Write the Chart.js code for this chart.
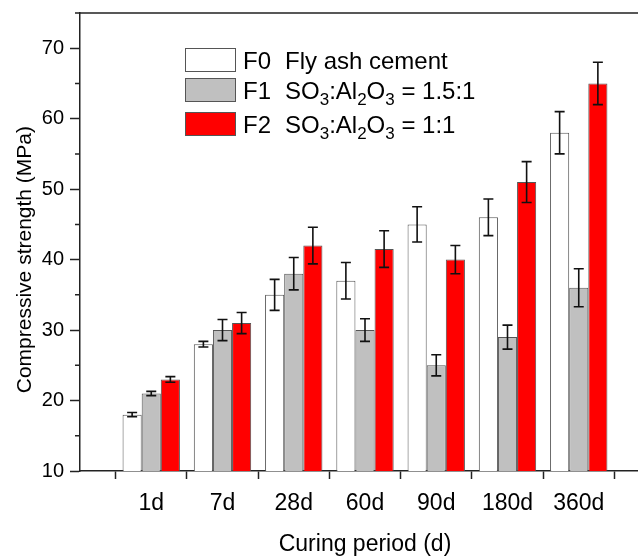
<!DOCTYPE html>
<html><head><meta charset="utf-8">
<script src="https://cdn.jsdelivr.net/npm/chart.js@4.4.1/dist/chart.umd.min.js"></script>
<style>html,body{margin:0;padding:0;overflow:hidden;background:#fff;width:638px;height:558px}canvas{display:block}</style>
</head><body>
<canvas id="c" width="650" height="558"></canvas>
<script>
// ---- data ----
const categories = ['1d', '7d', '28d', '60d', '90d', '180d', '360d'];
const seriesCodes = ['F0', 'F1', 'F2'];
const seriesDescriptions = ['Fly ash cement', 'SO_3:Al_2O_3 = 1.5:1', 'SO_3:Al_2O_3 = 1:1'];
const f0Values = [18, 28, 35, 37, 45, 46, 58];
const f0Errors = [0.3, 0.4, 2.2, 2.6, 2.5, 2.6, 3.0];
const f1Values = [21, 30, 38, 30, 25, 29, 36];
const f1Errors = [0.3, 1.5, 2.3, 1.6, 1.5, 1.7, 2.7];
const f2Values = [23, 31, 42, 41.5, 40, 51, 65];
const f2Errors = [0.4, 1.5, 2.6, 2.6, 2.0, 2.9, 3.0];
const yTickLabels = [10, 20, 30, 40, 50, 60, 70];
const xTitle = 'Curing period (d)';
const yTitle = 'Compressive strength (MPa)';

const FONT = '"Liberation Sans", Arial, sans-serif';
const AXIS = '#222';

function toPoints(vals) { return vals.map((v, i) => ({ x: i + 1, y: v })); }

const errorBarPlugin = {
  id: 'errorBars',
  afterDatasetsDraw(chart) {
    const ctx = chart.ctx, ys = chart.scales.y;
    chart.data.datasets.forEach((ds, di) => {
      const meta = chart.getDatasetMeta(di);
      meta.data.forEach((bar, i) => {
        const v = ds.data[i].y, e = ds.errors[i];
        const yt = ys.getPixelForValue(v + e), yb = ys.getPixelForValue(v - e);
        ctx.save();
        ctx.strokeStyle = '#111'; ctx.lineWidth = 1.6;
        ctx.beginPath();
        ctx.moveTo(bar.x, yt); ctx.lineTo(bar.x, yb);
        ctx.moveTo(bar.x - 5, yt); ctx.lineTo(bar.x + 5, yt);
        ctx.moveTo(bar.x - 5, yb); ctx.lineTo(bar.x + 5, yb);
        ctx.stroke();
        ctx.restore();
      });
    });
  }
};

const framePlugin = {
  id: 'frame',
  afterDraw(chart) {
    const ctx = chart.ctx, ys = chart.scales.y, a = chart.chartArea;
    ctx.save();
    ctx.strokeStyle = AXIS; ctx.lineWidth = 1.5;
    ctx.beginPath();
    ctx.moveTo(a.left, a.top); ctx.lineTo(a.right, a.top);
    for (let v = 15; v <= 75; v += 10) {
      const y = ys.getPixelForValue(v);
      ctx.moveTo(a.left - 5, y); ctx.lineTo(a.left, y);
    }
    ctx.stroke();
    // y axis title, centred on the 10-70 span
    ctx.fillStyle = '#000';
    ctx.font = '21px ' + FONT;
    ctx.textAlign = 'center';
    ctx.textBaseline = 'middle';
    const cy = (ys.getPixelForValue(10) + ys.getPixelForValue(70)) / 2;
    ctx.translate(25, cy);
    ctx.rotate(-Math.PI / 2);
    ctx.fillText(yTitle, 0, 0);
    ctx.restore();
  }
};

const legendPlugin = {
  id: 'customLegend',
  afterDraw(chart) {
    const ctx = chart.ctx;
    const boxTops = [48, 78, 112];
    const baselines = [68.5, 98.5, 132.5];
    const fills = ['#ffffff', '#c0c0c0', '#ff0000'];
    ctx.save();
    seriesCodes.forEach((code, i) => {
      ctx.fillStyle = fills[i];
      ctx.fillRect(185, boxTops[i], 51, 24);
      ctx.strokeStyle = '#555'; ctx.lineWidth = 1;
      ctx.strokeRect(185.5, boxTops[i] + 0.5, 50, 23);
      ctx.fillStyle = '#000';
      ctx.textBaseline = 'alphabetic';
      ctx.textAlign = 'left';
      ctx.font = '24px ' + FONT;
      ctx.fillText(code, 243, baselines[i]);
      let x = 285;
      const parts = seriesDescriptions[i].split(/_(\d)/);
      parts.forEach((p, k) => {
        if (!p) return;
        if (k % 2 === 1) {
          ctx.font = '17px ' + FONT;
          ctx.fillText(p, x, baselines[i] + 6);
        } else {
          ctx.font = '24px ' + FONT;
          ctx.fillText(p, x, baselines[i]);
        }
        x += ctx.measureText(p).width;
      });
    });
    ctx.restore();
  }
};

const mk = (label, vals, errs, color) => ({
  label, data: toPoints(vals), errors: errs,
  backgroundColor: color, borderColor: '#555', borderWidth: 1,
  categoryPercentage: 0.805, barPercentage: 1
});

new Chart(document.getElementById('c'), {
  type: 'bar',
  data: {
    datasets: [
      mk('F0 Fly ash cement', f0Values, f0Errors, '#ffffff'),
      mk('F1 SO3:Al2O3 = 1.5:1', f1Values, f1Errors, '#c0c0c0'),
      mk('F2 SO3:Al2O3 = 1:1', f2Values, f2Errors, '#ff0000')
    ]
  },
  options: {
    responsive: false,
    animation: false,
    devicePixelRatio: 1,
    layout: { padding: { top: 13, left: 0, right: 0, bottom: 0 } },
    plugins: { legend: { display: false }, tooltip: { enabled: false } },
    scales: {
      x: {
        type: 'linear', min: 0, max: 8, offset: false,
        afterFit: s => { s.height = 87; s.paddingLeft = 0; s.paddingRight = 0; },
        ticks: {
          stepSize: 1, includeBounds: false, autoSkip: false, maxRotation: 0,
          callback: v => categories[v - 1] ?? '',
          font: { size: 23, family: FONT }, color: '#000', padding: 11
        },
        grid: { drawOnChartArea: false, tickLength: 8, tickColor: AXIS, tickWidth: 1.5 },
        border: { color: AXIS, width: 1.5 },
        title: { display: true, text: xTitle, font: { size: 23, family: FONT }, color: '#000', padding: { top: 2, bottom: 0 } }
      },
      y: {
        min: 10, max: 75,
        afterFit: s => { s.width = 80; s.paddingTop = 0; s.paddingBottom = 0; },
        afterBuildTicks: s => {
          const t = [];
          for (let v = 10; v <= 75; v += 5) t.push({ value: v });
          s.ticks = t;
        },
        ticks: {
          callback: v => yTickLabels.includes(v) ? String(v) : '',
          font: { size: 20, family: FONT }, color: '#000', padding: 6
        },
        grid: {
          drawOnChartArea: false, tickLength: 10, tickWidth: 1.5,
          tickColor: c => (c.tick && yTickLabels.includes(c.tick.value)) ? AXIS : 'rgba(0,0,0,0)'
        },
        border: { color: AXIS, width: 1.5 },
        title: { display: false, text: yTitle }
      }
    }
  },
  plugins: [errorBarPlugin, framePlugin, legendPlugin]
});
</script>
</body></html>
